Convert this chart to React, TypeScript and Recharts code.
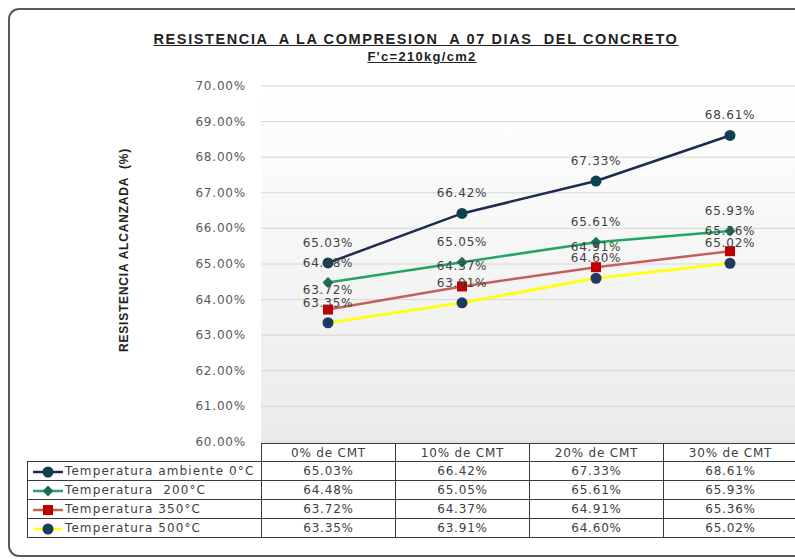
import React from "react"
import { LineChart, Line, XAxis, YAxis, CartesianGrid, LabelList } from "recharts"

const categories = ["0% de CMT", "10% de CMT", "20% de CMT", "30% de CMT"]
const ambiente = [65.03, 66.42, 67.33, 68.61]
const temp200 = [64.48, 65.05, 65.61, 65.93]
const temp350 = [63.72, 64.37, 64.91, 65.36]
const temp500 = [63.35, 63.91, 64.6, 65.02]
const yTicks = [60, 61, 62, 63, 64, 65, 66, 67, 68, 69, 70]

type Marker = "circle" | "diamond" | "square"
type Serie = { key: string; name: string; values: number[]; stroke: string; width: number; marker: Marker; markerFill: string }

const series: Serie[] = [
  { key: "s0", name: "Temperatura ambiente 0°C", values: ambiente, stroke: "#1f2a52", width: 2.5, marker: "circle", markerFill: "#0d4150" },
  { key: "s1", name: "Temperatura  200°C", values: temp200, stroke: "#23a463", width: 2.5, marker: "diamond", markerFill: "#18705c" },
  { key: "s2", name: "Temperatura 350°C", values: temp350, stroke: "#c4605c", width: 2.5, marker: "square", markerFill: "#c00000" },
  { key: "s3", name: "Temperatura 500°C", values: temp500, stroke: "#ffff1a", width: 3, marker: "circle", markerFill: "#1f3a60" },
]

const data = categories.map((cat, i) => {
  const row: Record<string, string | number> = { cat }
  series.forEach((s) => (row[s.key] = s.values[i]))
  return row
})

const fmt = (v: number) => v.toFixed(2) + "%"
const txtFont = "'DejaVu Sans', sans-serif"

function markerShape(m: Marker, fill: string, cx: number, cy: number, key?: string) {
  if (m === "square") return <rect key={key} x={cx - 5} y={cy - 5} width={10} height={10} fill={fill} />
  if (m === "diamond") return <path key={key} d={`M${cx},${cy - 5.5}L${cx + 5.5},${cy}L${cx},${cy + 5.5}L${cx - 5.5},${cy}Z`} fill={fill} />
  return <circle key={key} cx={cx} cy={cy} r={5.5} fill={fill} />
}

const YTick = (props: any) => {
  const { x, y, payload } = props
  return (
    <text x={x} y={y + 4} textAnchor="end" fontSize={12} fontFamily={txtFont} fill="#595959" letterSpacing={0.8}>
      {fmt(payload.value)}
    </text>
  )
}

const PointLabel = (props: any) => {
  const { x, y, value } = props
  return (
    <text x={x} y={y - 16} textAnchor="middle" fontSize={12} fontFamily={txtFont} fill="#404040" letterSpacing={0.8}>
      {fmt(value)}
    </text>
  )
}

const cell: React.CSSProperties = {
  border: "1.5px solid #3a3a3a",
  textAlign: "center",
  padding: 0,
  fontSize: 12,
  color: "#404040",
  letterSpacing: 0.8,
  whiteSpace: "nowrap",
}

export default function App() {
  return (
    <div style={{ position: "fixed", left: 0, top: 0, width: 795, height: 559, overflow: "hidden", background: "#fff", fontFamily: txtFont }}>
      <div style={{ position: "absolute", left: 8, top: 8, width: 800, height: 549, border: "2px solid #5a5a5a", borderRadius: 11, boxSizing: "border-box" }} />
      <div style={{ position: "absolute", left: 0, top: 0 }}>
        <LineChart width={800} height={559} data={data} margin={{ top: 86, right: 3, bottom: 117, left: 181 }}>
          <defs>
            <linearGradient id="plotBg" x1="0" y1="0" x2="0" y2="1">
              <stop offset="0%" stopColor="#ffffff" />
              <stop offset="100%" stopColor="#ebebeb" />
            </linearGradient>
          </defs>
          <CartesianGrid vertical={false} stroke="#d6d6d6" fill="url(#plotBg)" />
          <XAxis dataKey="cat" hide height={0} padding={{ left: 67, right: 67 }} />
          <YAxis
            width={80}
            domain={[60, 70]}
            ticks={yTicks}
            axisLine={false}
            tickLine={false}
            tickSize={0}
            tickMargin={15}
            tick={<YTick />}
          />
          {series.map((s) => (
            <Line
              key={s.key}
              dataKey={s.key}
              name={s.name}
              stroke={s.stroke}
              strokeWidth={s.width}
              isAnimationActive={false}
              dot={(p: any) => markerShape(s.marker, s.markerFill, p.cx, p.cy, `${s.key}-${p.index}`)}
              activeDot={false}
            >
              <LabelList dataKey={s.key} content={<PointLabel />} />
            </Line>
          ))}
        </LineChart>
      </div>

      <div style={{ position: "absolute", left: 0, width: 832, top: 31, textAlign: "center", fontFamily: "'Liberation Sans', Arial, sans-serif", fontWeight: "bold", color: "#222", lineHeight: "17px" }}>
        <div style={{ fontSize: 14.5, letterSpacing: 1.6, textDecoration: "underline", whiteSpace: "pre" }}>RESISTENCIA  A LA COMPRESION  A 07 DIAS  DEL CONCRETO</div>
        <div style={{ fontSize: 13, letterSpacing: 1.3, textDecoration: "underline", marginLeft: 12 }}>F'c=210kg/cm2</div>
      </div>

      <div
        style={{
          position: "absolute",
          left: 124,
          top: 250,
          transform: "translate(-50%, -50%) rotate(-90deg)",
          fontFamily: "'Liberation Sans', Arial, sans-serif",
          fontWeight: "bold",
          fontSize: 12,
          letterSpacing: 0.8,
          color: "#222",
          whiteSpace: "pre",
        }}
      >
        RESISTENCIA ALCANZADA  (%)
      </div>

      <table style={{ position: "absolute", left: 27, top: 443, borderCollapse: "collapse", tableLayout: "fixed", width: 770, fontFamily: txtFont }}>
        <colgroup>
          <col style={{ width: 234 }} />
          {categories.map((c) => (
            <col key={c} style={{ width: 134 }} />
          ))}
        </colgroup>
        <tbody>
          <tr style={{ height: 18 }}>
            <td style={{ border: "none" }} />
            {categories.map((c) => (
              <td key={c} style={cell}>
                {c}
              </td>
            ))}
          </tr>
          {series.map((s) => (
            <tr key={s.key} style={{ height: 19 }}>
              <td style={{ ...cell, textAlign: "left", whiteSpace: "pre", letterSpacing: 1.1 }}>
                <svg width={32} height={12} style={{ verticalAlign: "middle", marginLeft: 4, marginRight: 1 }}>
                  <line x1={1} y1={6} x2={31} y2={6} stroke={s.stroke} strokeWidth={2.5} />
                  {markerShape(s.marker, s.markerFill, 16, 6)}
                </svg>
                {s.name}
              </td>
              {s.values.map((v, i) => (
                <td key={i} style={cell}>
                  {fmt(v)}
                </td>
              ))}
            </tr>
          ))}
        </tbody>
      </table>
    </div>
  )
}
